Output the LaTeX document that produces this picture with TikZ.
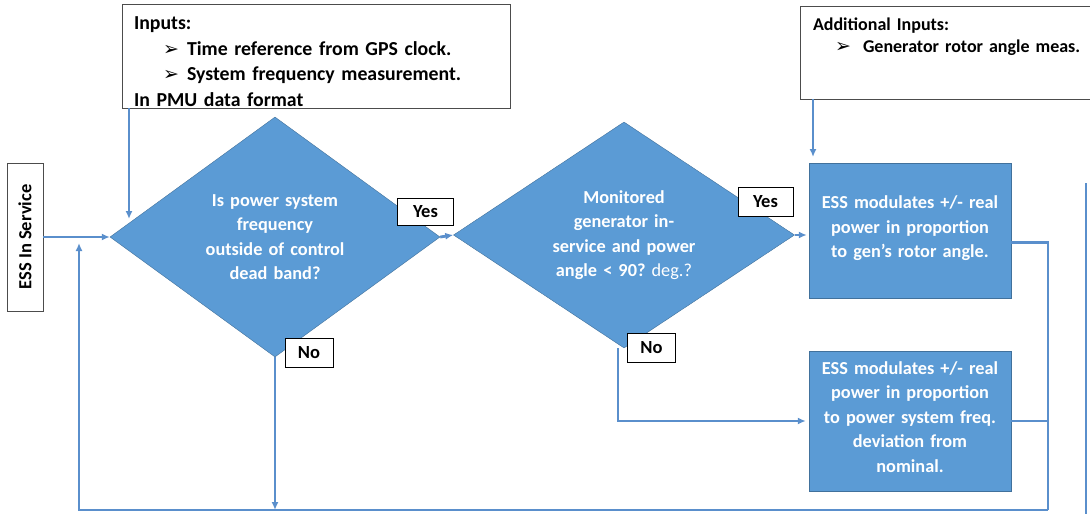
\documentclass[tikz,border=0pt]{standalone}
\usepackage{fontspec}
\setmainfont{Carlito}
\newfontfamily\symfont{DejaVu Sans}
\usetikzlibrary{arrows.meta,positioning,shapes.geometric}
\definecolor{essBlue}{HTML}{5B9BD5}
\definecolor{essEdge}{HTML}{41719C}
\definecolor{essLine}{HTML}{5A8FCC}
\newcommand{\bul}{{\symfont\fontsize{19}{19}\selectfont\char"27A2}}
\frenchspacing

\begin{document}
\begin{tikzpicture}[
  x=1pt, y=-1pt,
  decision/.style={diamond, shape aspect=1.4, draw=essEdge, fill=essBlue, text=white, align=center, inner sep=0pt, text width=150pt, font=\fontsize{18.3}{24.5}\selectfont\bfseries},
  action/.style={rectangle, draw=essEdge, fill=essBlue, text=white, align=center, inner sep=0pt, minimum width=202pt, text width=196pt, font=\fontsize{18.3}{24.5}\selectfont\bfseries},
  inbox/.style={rectangle, draw=black!70, thick, fill=white, align=left, inner sep=0pt, font=\fontsize{19.8}{25.5}\selectfont\bfseries},
  tag/.style={rectangle, draw=black, fill=white, inner sep=0pt, minimum width=48pt, minimum height=29pt, font=\fontsize{18.5}{20}\selectfont\bfseries},
  arrow/.style={-{Latex[length=8pt,width=7pt]}, essLine, line width=2.8pt},
  link/.style={essLine, line width=2.8pt}
]
\useasboundingbox (0,0) rectangle (1090,514);

% inputs
\node[inbox, minimum width=388pt, minimum height=104pt, text width=364pt] (inputs) at (316,56)
  {\rule{0pt}{24pt}Inputs:\\
   \hspace*{29pt}\makebox[24pt][l]{\bul}Time reference from GPS clock.\\
   \hspace*{29pt}\makebox[24pt][l]{\bul}System frequency measurement.\\
   In PMU data format};
\node[inbox, minimum width=300pt, minimum height=93pt, text width=300pt, font=\fontsize{18}{22}\selectfont\bfseries] (addin) at (950,52.5)
  {\hspace*{13pt}Additional Inputs:\\
   \hspace*{35pt}\makebox[28pt][l]{\bul}Generator rotor angle meas.\\[12pt]
   \mbox{}};
\node[rectangle, draw=black!70, thick, fill=white, rotate=90, minimum width=148pt, minimum height=36pt, inner sep=0pt, font=\fontsize{18.5}{20}\selectfont\bfseries] (ess) at (25,237) {ESS In Service};

% decisions and actions
\node[decision, minimum width=330pt, minimum height=240pt] (freq) at (275,237)
  {Is power system\\frequency\\outside of control\\dead band?};
\node[decision, minimum width=341pt, minimum height=226pt] (gen) at (624,235)
  {Monitored\\generator in-\\service and power\\angle < 90? {\mdseries deg.?}};
\node[action, minimum height=135pt] (rotor) at (910,230.5)
  {ESS modulates +/- real\\power in proportion\\to gen’s rotor angle.\\[-17pt]\mbox{}};
\node[action, minimum height=140pt] (dev) at (910,421)
  {ESS modulates +/- real\\power in proportion\\to power system freq.\\deviation from\\nominal.\\[-16pt]\mbox{}};

\coordinate (freqin) at (129,219);
\coordinate (rotorin) at (813,157);
\coordinate (corner) at (1048,510);
\coordinate (back) at (79,243);
\coordinate (edgetop) at (1086,183);
\coordinate (edgebot) at (1086,514);

\draw[arrow] (ess) -- (freq);
\draw[arrow] (inputs.south west -| freqin) -- (freqin);
\draw[arrow] (freq.east) -- (gen.west);
\draw[arrow] (addin.south west -| rotorin) -- (rotorin);
\draw[arrow, shorten >=2pt] (gen.east) -- (gen.east -| rotor.west);
\draw[arrow, shorten >=3pt] ([xshift=-6pt]gen.south) |- (dev.west);
\draw[arrow] (freq.south) -- (freq.south |- corner);
\draw[link] ([yshift=-12pt]rotor.east) -| (corner);
\draw[link] (dev.east) -- (dev.east -| corner);
\draw[arrow] (corner) -| (back);
\draw[link] (edgetop) -- (edgebot);

% yes / no tags
\node[tag, minimum width=56pt, minimum height=27pt] (yes1) at (425.5,211.5) {Yes};
\node[tag] (no1) at (309,352.5) {No};
\node[tag, minimum width=55pt] (yes2) at (765.5,202) {Yes};
\node[tag] (no2) at (651.5,347.5) {No};
\end{tikzpicture}
\end{document}
